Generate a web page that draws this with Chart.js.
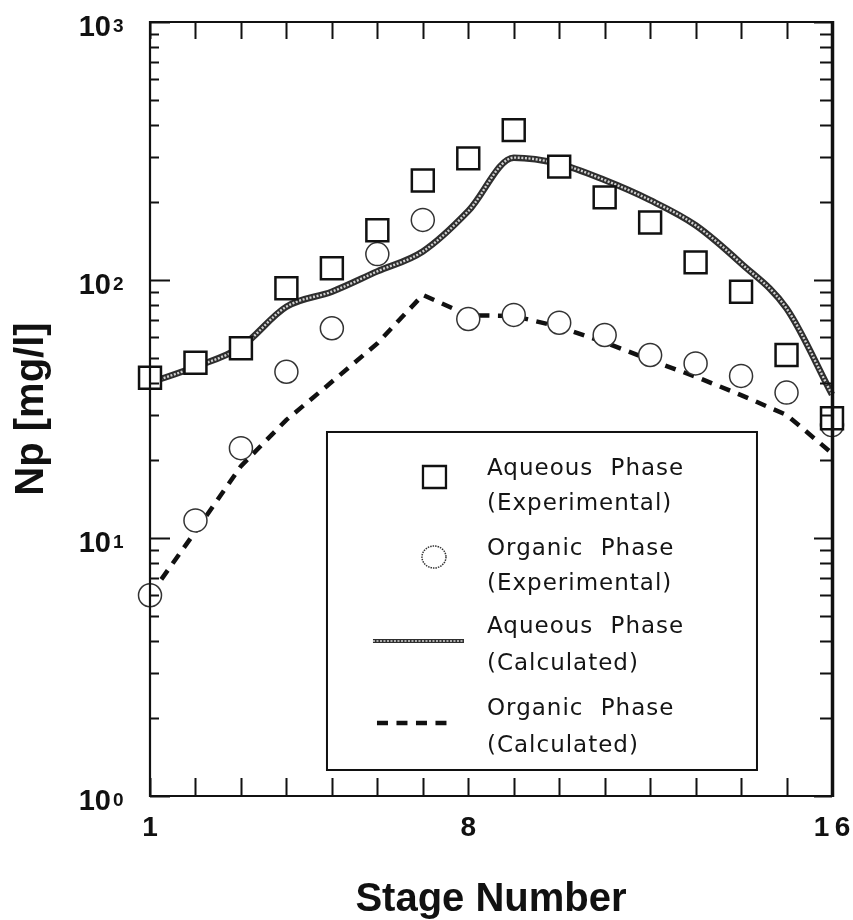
<!DOCTYPE html>
<html><head><meta charset="utf-8">
<script src="https://cdn.jsdelivr.net/npm/chart.js@4.4.1/dist/chart.umd.min.js"></script>
<style>html,body{margin:0;padding:0;background:#fff}canvas{display:block}</style>
</head><body>
<canvas id="c" width="853" height="920"></canvas>
<script>
// ---- data ----
const stages = [1, 2, 3, 4, 5, 6, 7, 8, 9, 10, 11, 12, 13, 14, 15, 16];
const aqueousExp  = [41.8, 47.8, 54.4, 92.9, 111, 156, 243, 296, 381, 275, 209, 167, 117, 90, 51.2, 29.1];
const organicExp  = [6.0, 11.7, 22.3, 44.1, 65.0, 126, 171, 70.6, 73.2, 68.3, 61.2, 51.2, 47.5, 42.5, 36.6, 27.4];
const aqueousCalc = [40, 46.1, 55, 78.8, 90.1, 108, 129, 185, 298, 282, 244, 204, 163, 116, 77.6, 36];
const organicCalc = [6.0, 10.6, 19.0, 28.7, 40.3, 56.8, 87.5, 73, 72.5, 65.9, 57.3, 49.0, 42.2, 35.8, 30.0, 21.3];
const xTickLabels = [1, 8, 16];
const yTickBase = '10';
const yTickExponents = ['0', '1', '2', '3'];
const legendLines = [
  ['Aqueous Phase', '(Experimental)'],
  ['Organic Phase', '(Experimental)'],
  ['Aqueous Phase', '(Calculated)'],
  ['Organic Phase', '(Calculated)']
];

const pts = arr => stages.map((s, i) => ({x: s, y: arr[i]}));
const FONT = '"Liberation Sans", Arial, sans-serif';
const Y_LABEL_PAD = 39;

const framePlugin = {
  id: 'frame',
  afterDraw(chart) {
    const {ctx, chartArea: a, scales} = chart;
    const xs = scales.x, ys = scales.y;
    ctx.save();
    ctx.strokeStyle = '#111';
    ctx.lineCap = 'butt';
    // x ticks (inward, top and bottom)
    ctx.lineWidth = 2;
    for (let s = xs.min; s <= xs.max; s++) {
      const px = Math.round(xs.getPixelForValue(s)) + 0.5;
      ctx.beginPath();
      ctx.moveTo(px, a.bottom); ctx.lineTo(px, a.bottom - 18);
      ctx.moveTo(px, a.top); ctx.lineTo(px, a.top + 17);
      ctx.stroke();
    }
    // y ticks (inward, left and right, log minors)
    const e0 = Math.round(Math.log10(ys.min)), e1 = Math.round(Math.log10(ys.max));
    for (let e = e0; e <= e1; e++) {
      for (let m = 1; m <= 9; m++) {
        const v = m * Math.pow(10, e);
        if (v > ys.max) break;
        const py = Math.round(ys.getPixelForValue(v)) + 0.5;
        const major = (m === 1);
        ctx.lineWidth = 2;
        ctx.beginPath();
        ctx.moveTo(a.left, py); ctx.lineTo(a.left + (major ? 20 : 9), py);
        ctx.moveTo(a.right, py); ctx.lineTo(a.right - (major ? 18 : 12), py);
        ctx.stroke();
      }
      // exponent of the decade label
      const py = ys.getPixelForValue(Math.pow(10, e));
      ctx.fillStyle = '#111';
      ctx.font = 'bold 19px ' + FONT;
      ctx.textAlign = 'left';
      ctx.textBaseline = 'alphabetic';
      ctx.fillText(yTickExponents[e], a.left - Y_LABEL_PAD + 2, py + 10);
    }
    // frame
    ctx.lineWidth = 2.2;
    ctx.beginPath();
    ctx.moveTo(a.left, a.top); ctx.lineTo(a.right, a.top);
    ctx.moveTo(a.left, a.top - 1); ctx.lineTo(a.left, a.bottom + 1);
    ctx.moveTo(a.left - 1, a.bottom); ctx.lineTo(a.right + 1, a.bottom);
    ctx.stroke();
    ctx.lineWidth = 3.5;
    ctx.beginPath();
    ctx.moveTo(a.right + 0.5, a.top - 1); ctx.lineTo(a.right + 0.5, a.bottom + 1);
    ctx.stroke();

    // legend box
    const W = a.right - a.left, H = a.bottom - a.top;
    const bx0 = a.left + 0.2595 * W, bx1 = a.left + 0.890 * W;
    const by0 = a.top + 0.5297 * H, by1 = a.top + 0.9664 * H;
    ctx.fillStyle = '#fff';
    ctx.fillRect(bx0, by0, bx1 - bx0, by1 - by0);
    ctx.lineWidth = 2;
    ctx.strokeStyle = '#111';
    ctx.strokeRect(bx0, by0, bx1 - bx0, by1 - by0);

    const symX = bx0 + 107;
    const textX = bx0 + 160;
    const rows = [by0 + 45, by0 + 125, by0 + 209, by0 + 291];
    const base1 = [43, 123, 201, 283], base2 = [78, 158, 238, 320];
    // square
    ctx.lineWidth = 2.3;
    ctx.fillStyle = '#fff';
    ctx.beginPath(); ctx.rect(symX - 11, rows[0] - 11, 23, 22); ctx.fill(); ctx.stroke();
    // circle
    ctx.lineWidth = 1.5;
    ctx.strokeStyle = '#333';
    ctx.setLineDash([1.5, 1]);
    ctx.beginPath(); ctx.ellipse(symX, rows[1], 12, 11, 0, 0, Math.PI * 2); ctx.stroke();
    ctx.setLineDash([]);
    // beaded line
    ctx.strokeStyle = '#2e2e2e'; ctx.lineWidth = 4;
    ctx.beginPath(); ctx.moveTo(symX - 61, rows[2]); ctx.lineTo(symX + 30, rows[2]); ctx.stroke();
    ctx.strokeStyle = '#d8d8d8'; ctx.lineWidth = 1.6; ctx.setLineDash([2, 1.5]);
    ctx.beginPath(); ctx.moveTo(symX - 61, rows[2]); ctx.lineTo(symX + 30, rows[2]); ctx.stroke();
    ctx.setLineDash([]);
    // dashed line
    ctx.strokeStyle = '#111'; ctx.lineWidth = 4.5; ctx.setLineDash([11, 8.5]);
    ctx.beginPath(); ctx.moveTo(symX - 57, rows[3]); ctx.lineTo(symX + 20, rows[3]); ctx.stroke();
    ctx.setLineDash([]);

    // legend text
    ctx.fillStyle = '#151515';
    ctx.font = '23px "DejaVu Sans"';
    ctx.textBaseline = 'alphabetic';
    ctx.textAlign = 'left';
    try { ctx.letterSpacing = '1px'; ctx.wordSpacing = '9px'; } catch (e) {}
    legendLines.forEach((pair, i) => {
      ctx.fillText(pair[0], textX, by0 + base1[i]);
      ctx.fillText(pair[1], textX, by0 + base2[i]);
    });
    ctx.restore();
  }
};

new Chart(document.getElementById('c'), {
  type: 'scatter',
  data: {
    datasets: [
      { label: 'Aqueous Phase (Experimental)', data: pts(aqueousExp), order: 0, clip: false,
        pointStyle: 'rect', pointRadius: 15.5, pointHoverRadius: 15.5, borderWidth: 2.5,
        borderColor: '#111', backgroundColor: '#fff', showLine: false },
      { label: 'Organic Phase (Experimental)', data: pts(organicExp), order: 1, clip: false,
        pointStyle: 'circle', pointRadius: 11.5, pointHoverRadius: 11.5, borderWidth: 1.5,
        borderColor: '#333', backgroundColor: '#fff', showLine: false },
      { label: 'Aqueous Phase (Calculated) top', data: pts(aqueousCalc), order: 2, clip: false,
        showLine: true, pointRadius: 0, borderColor: '#d0d0d0', borderWidth: 2.4, borderDash: [2, 1.6],
        cubicInterpolationMode: 'monotone' },
      { label: 'Aqueous Phase (Calculated)', data: pts(aqueousCalc), order: 3, clip: false,
        showLine: true, pointRadius: 0, borderColor: '#2e2e2e', borderWidth: 6.5,
        cubicInterpolationMode: 'monotone' },
      { label: 'Organic Phase (Calculated)', data: pts(organicCalc), order: 4, clip: false,
        showLine: true, pointRadius: 0, borderColor: '#111', borderWidth: 4.5, borderDash: [11, 8.5] }
    ]
  },
  options: {
    responsive: false,
    animation: false,
    events: [],
    layout: { padding: { left: 0, right: 21, top: 22, bottom: 0 } },
    plugins: { legend: { display: false }, tooltip: { enabled: false } },
    scales: {
      x: {
        type: 'linear', min: 1, max: 16,
        grid: { display: false, drawTicks: false }, border: { display: false },
        afterFit(scale) { scale.height = 124; scale.paddingLeft = 0; scale.paddingRight = 0; },
        afterBuildTicks(scale) { scale.ticks = stages.map(v => ({value: v})); },
        ticks: {
          autoSkip: false, padding: 15, color: '#111', maxRotation: 0,
          font: { family: FONT, size: 28, weight: 'bold' },
          callback: v => xTickLabels.includes(v) ? String(v).split('').join('\u2009') : ''
        },
        title: { display: true, text: 'Stage Number', color: '#111',
          font: { family: FONT, size: 40, weight: 'bold', lineHeight: 1 },
          padding: { top: 0, bottom: 0 } }
      },
      y: {
        type: 'logarithmic', min: 1, max: 1000,
        grid: { display: false, drawTicks: false }, border: { display: false },
        afterFit(scale) { scale.width = 150; scale.paddingTop = 0; scale.paddingBottom = 0; },
        ticks: {
          autoSkip: false, padding: Y_LABEL_PAD, color: '#111', labelOffset: 6,
          font: { family: FONT, size: 29, weight: 'bold' },
          callback: v => {
            const l = Math.log10(v);
            return Math.abs(l - Math.round(l)) < 1e-9 ? yTickBase : '';
          }
        },
        title: { display: true, text: 'Np [mg/l]', color: '#111',
          font: { family: FONT, size: 40, weight: 'bold' },
          padding: { top: 8, bottom: 0 } }
      }
    }
  },
  plugins: [framePlugin]
});
</script>
</body></html>
